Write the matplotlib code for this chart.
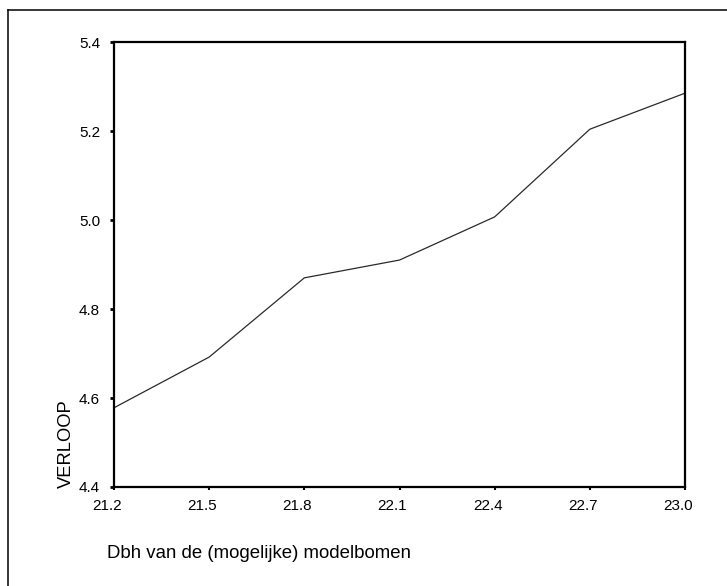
import matplotlib
matplotlib.use("Agg")
import matplotlib.pyplot as plt
from matplotlib.lines import Line2D
from matplotlib.transforms import ScaledTranslation

plt.rcParams['font.family'] = ['Liberation Sans', 'DejaVu Sans']

dbh = [21.2, 21.5, 21.8, 22.1, 22.4, 22.7, 23.0]
verloop = [4.578, 4.692, 4.870, 4.910, 5.007, 5.204, 5.285]
x_ticks = [21.2, 21.5, 21.8, 22.1, 22.4, 22.7, 23.0]
y_ticks = [4.4, 4.6, 4.8, 5.0, 5.2, 5.4]

W, H = 727, 586
fig = plt.figure(figsize=(W / 100, H / 100), dpi=100)
ax = fig.add_axes([114 / W, 1 - 487 / H, (685 - 114) / W, (487 - 42) / H])

ax.plot(dbh, verloop, color='#2a2a2a', lw=0.9)
ax.set_xlim(21.2, 23.0)
ax.set_ylim(4.4, 5.4)
ax.set_xticks(x_ticks)
ax.set_xticklabels([f"{v:.1f}" for v in x_ticks])
ax.set_yticks(y_ticks)
ax.set_yticklabels([f"{v:.1f}" for v in y_ticks])
for s in ax.spines.values():
    s.set_linewidth(1.6)
    s.set_color('black')
ax.tick_params(axis='x', length=2, width=1.5, pad=7, labelsize=11)
ax.tick_params(axis='y', length=3, width=2, pad=7, labelsize=11)
shift = ScaledTranslation(-7 / 100, 0, fig.dpi_scale_trans)
for lbl in ax.get_xticklabels():
    lbl.set_transform(lbl.get_transform() + shift)

fig.text(107 / W, 1 - 553 / H, "Dbh van de (mogelijke) modelbomen",
         fontsize=13.4, va='center', ha='left')
fig.text(66 / W, 1 - 444 / H, "VERLOOP", rotation=90, fontsize=13.2,
         va='center', ha='center')

# outer frame (top and left edges)
fig.add_artist(Line2D([8 / W, 8 / W], [0, 1 - 10 / H], transform=fig.transFigure,
                      color='black', lw=1.1))
fig.add_artist(Line2D([8 / W, 1], [1 - 10 / H, 1 - 10 / H], transform=fig.transFigure,
                      color='black', lw=1.1))

fig.savefig("out.png", dpi=100)
